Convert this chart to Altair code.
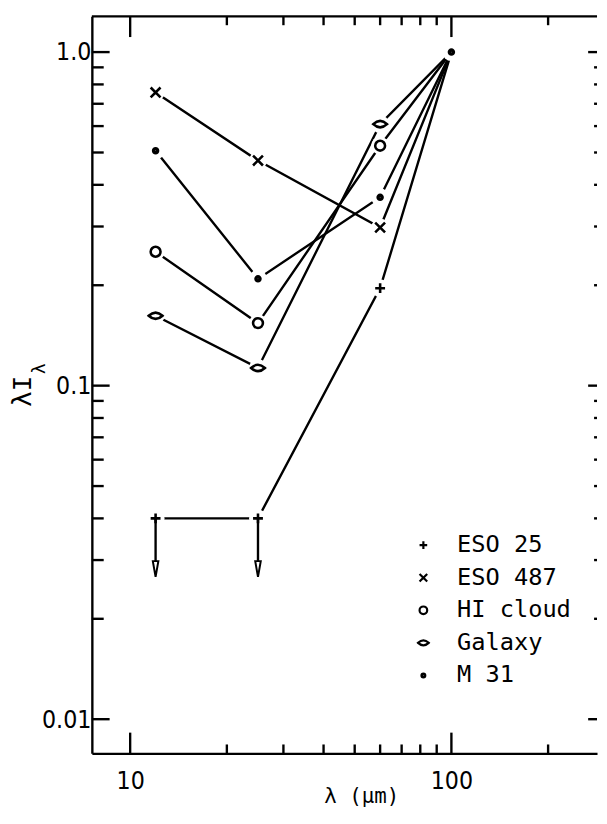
import altair as alt
import pandas as pd

# ---- data ----
wavelengths = [12, 25, 60, 100]
series_names = ["ESO 25", "ESO 487", "HI cloud", "Galaxy", "M 31"]
eso25 = [0.040, 0.040, 0.196, 1.0]
eso487 = [0.757, 0.473, 0.298, 1.0]
hi_cloud = [0.252, 0.154, 0.524, 1.0]
galaxy = [0.162, 0.113, 0.608, 1.0]
m31 = [0.506, 0.209, 0.367, 1.0]
eso25_upper_limit = [True, True, False, False]

x_major = [10, 100]
x_minor = [20, 30, 40, 50, 60, 70, 80, 90, 200]
y_major = [0.01, 0.1, 1.0]
y_minor = [0.02, 0.03, 0.04, 0.05, 0.06, 0.07, 0.08, 0.09,
           0.2, 0.3, 0.4, 0.5, 0.6, 0.7, 0.8, 0.9]

# ---- table ----
rows = []
for name, vals in zip(series_names, [eso25, eso487, hi_cloud, galaxy, m31]):
    for i, (w, v) in enumerate(zip(wavelengths, vals)):
        lim = eso25_upper_limit[i] if name == "ESO 25" else False
        show = (w < 100) or (name == "M 31")
        rows.append({"series": name, "wl": w, "val": v, "upper": lim, "show": show})
df = pd.DataFrame(rows)

W, H = 512, 747
NARROW = "'Liberation Sans Narrow', 'DejaVu Sans Condensed', 'Liberation Sans', sans-serif"
MONO = "DejaVu Sans Mono"

xscale = alt.Scale(type="log", domain=[7.6, 284], nice=False)
yscale = alt.Scale(type="log", domain=[0.0079, 1.28], nice=False)

xaxis = alt.Axis(values=x_major, labelExpr="datum.value == 10 ? '10' : '100'",
                 ticks=False, tickSize=0, domain=True, domainColor="black", domainWidth=2.4,
                 grid=False, labelFont=NARROW, labelFontSize=25, labelColor="black",
                 labelPadding=16, title="λ (μm)", titleFont=MONO, titleFontSize=21,
                 titleFontWeight="normal", titleColor="black",
                 titleX=273, titleY=44, titleBaseline="middle", titleAlign="center")
yaxis = alt.Axis(values=y_major,
                 labelExpr="datum.value == 1 ? '1.0' : (datum.value > 0.05 ? '0.1' : '0.01')",
                 ticks=False, tickSize=0, domain=True, domainColor="black", domainWidth=2.4,
                 grid=False, labelFont=NARROW, labelFontSize=25, labelColor="black",
                 labelPadding=1, title=None)


def X(field):
    return alt.X(field, scale=xscale, axis=xaxis)


def Y(field):
    return alt.Y(field, scale=yscale, axis=yaxis)


# marker outlines (drawn black); the M 31 dot is two concentric rings that merge into a disk
shape_range = [
    "M-1,0L1,0M0,-1L0,1",                                          # plus
    "M-1,-1L1,1M-1,1L1,-1",                                        # x
    "circle",                                                      # open circle
    "M-1.4,0Q0,-1.3,1.4,0Q0,1.3,-1.4,0Z",                          # lens (galaxy)
    "M-0.5,0A0.5,0.5,0,1,0,0.5,0A0.5,0.5,0,1,0,-0.5,0Z"
    "M-0.2,0A0.2,0.2,0,1,0,0.2,0A0.2,0.2,0,1,0,-0.2,0Z",           # dot
]
stroke_range = ["black"] * 5
fill_range = ["white"] * 5

base = alt.Chart(df)

lines = base.mark_line(color="black", strokeWidth=2.4).encode(
    x=X("wl:Q"), y=Y("val:Q"), detail="series:N", order="wl:Q")

shown = base.transform_filter("datum.show")

halo = shown.mark_point(shape="circle", filled=True, color="white", opacity=1, size=330).encode(
    x=X("wl:Q"), y=Y("val:Q"))

arrow_base = base.transform_filter("datum.upper").transform_calculate(
    tip="datum.val * 0.74", head="datum.val * 0.705"
)
arrow_shaft = arrow_base.mark_rule(color="black", strokeWidth=2.4).encode(
    x=X("wl:Q"), y=Y("val:Q"), y2="tip:Q")
arrow_head = arrow_base.mark_point(
    shape="M-0.35,-1L0.35,-1L0,1Z", filled=True, fill="white", stroke="black",
    strokeWidth=2, opacity=1, size=256
).encode(x=X("wl:Q"), y=Y("head:Q"))

leg = alt.Legend(title=None, orient="none", legendX=324, legendY=524,
                 labelFont=MONO, labelFontSize=24, labelColor="black",
                 symbolStrokeWidth=2.2, symbolSize=60, symbolOpacity=1,
                 rowPadding=9, labelOffset=22)

markers = shown.mark_point(strokeWidth=2.6, opacity=1, size=100).encode(
    x=X("wl:Q"), y=Y("val:Q"),
    shape=alt.Shape("series:N", scale=alt.Scale(domain=series_names, range=shape_range), legend=leg),
    stroke=alt.Stroke("series:N", scale=alt.Scale(domain=series_names, range=stroke_range), legend=leg),
    fill=alt.Fill("series:N", scale=alt.Scale(domain=series_names, range=fill_range), legend=leg),
)


# ---- inward ticks on all four sides ----
def yt(vals, x0, x1):
    return alt.Chart(pd.DataFrame({"v": vals})).mark_rule(color="black", strokeWidth=2.4).encode(
        y=Y("v:Q"), x=alt.value(x0), x2=alt.value(x1))


def xt(vals, y0, y1):
    return alt.Chart(pd.DataFrame({"v": vals})).mark_rule(color="black", strokeWidth=2.4).encode(
        x=X("v:Q"), y=alt.value(y0), y2=alt.value(y1))


ticks = [
    yt(y_major, 0, 18), yt(y_minor, 0, 12),
    yt(y_major, W - 9, W), yt(y_minor, W - 3, W),
    xt(x_major, H, H - 21), xt(x_minor, H, H - 9),
    xt(x_major, 0, 21), xt(x_minor, 0, 9),
]

one = pd.DataFrame({"t": ["λI"]})
top_line = alt.Chart(one).mark_rule(color="black", strokeWidth=2.4).encode(
    x=alt.value(0), x2=alt.value(W), y=alt.value(0))

ytitle = alt.Chart(one).mark_text(
    font=MONO, fontSize=26, angle=270, baseline="middle", align="center", color="black"
).encode(text="t:N", x=alt.value(-70), y=alt.value(380))
ysub = alt.Chart(pd.DataFrame({"t": ["λ"]})).mark_text(
    font=MONO, fontSize=18, angle=270, baseline="middle", align="center", color="black"
).encode(text="t:N", x=alt.value(-53), y=alt.value(357))

chart = alt.layer(
    lines, halo, arrow_shaft, arrow_head, markers, top_line, *ticks, ytitle, ysub
).properties(
    width=W, height=H,
    padding={"left": 2, "top": 1, "right": 0, "bottom": 0},
).configure_view(stroke=None)

chart.save("out.html", embed_options={"renderer": "svg", "actions": False})
